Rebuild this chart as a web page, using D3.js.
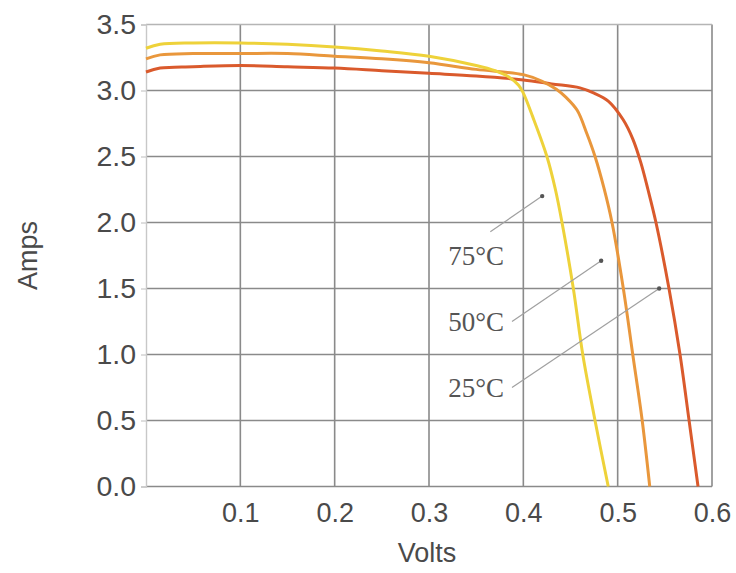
<!DOCTYPE html>
<html>
<head>
<meta charset="utf-8">
<script src="https://cdn.jsdelivr.net/npm/d3@7"></script>
<style>
  html, body { margin: 0; padding: 0; background: #ffffff; }
  svg { display: block; }
</style>
</head>
<body>
<svg id="chart" width="736" height="573"></svg>
<script>
// ---------- DATA ----------
const xTicks = [0.1, 0.2, 0.3, 0.4, 0.5, 0.6];
const yTicks = [0.0, 0.5, 1.0, 1.5, 2.0, 2.5, 3.0, 3.5];
const xLabel = "Volts";
const yLabel = "Amps";

// I-V curves: [volts, amps]
const curve75 = [
  [0.000, 3.32], [0.015, 3.35], [0.05, 3.36], [0.10, 3.36], [0.15, 3.35],
  [0.20, 3.33], [0.25, 3.30], [0.30, 3.26], [0.35, 3.19], [0.37, 3.15],
  [0.385, 3.10], [0.395, 3.04], [0.400, 2.98], [0.410, 2.80], [0.425, 2.50],
  [0.434, 2.25], [0.441, 2.00], [0.453, 1.50], [0.463, 1.00], [0.476, 0.50],
  [0.490, 0.00]
];
const curve50 = [
  [0.000, 3.24], [0.015, 3.27], [0.05, 3.28], [0.10, 3.28], [0.15, 3.28],
  [0.20, 3.26], [0.25, 3.24], [0.30, 3.21], [0.35, 3.16], [0.40, 3.12],
  [0.42, 3.07], [0.435, 3.01], [0.445, 2.95], [0.4571, 2.85], [0.4675, 2.67],
  [0.4760, 2.50], [0.4855, 2.26], [0.494, 2.00], [0.506, 1.50], [0.516, 1.00],
  [0.526, 0.50], [0.534, 0.00]
];
const curve25 = [
  [0.000, 3.14], [0.015, 3.17], [0.05, 3.18], [0.10, 3.19], [0.15, 3.18],
  [0.20, 3.17], [0.25, 3.15], [0.30, 3.13], [0.35, 3.11], [0.40, 3.08],
  [0.43, 3.05], [0.46, 3.02], [0.475, 2.98], [0.490, 2.92], [0.5057, 2.78],
  [0.5162, 2.63], [0.5247, 2.45], [0.5321, 2.25], [0.5406, 2.00], [0.5544, 1.50],
  [0.5661, 1.00], [0.5757, 0.50], [0.5852, 0.00]
];
const seriesNames = ["25°C", "50°C", "75°C"];
const seriesColors = ["#da5a2c", "#e9973c", "#eed23a"];

// annotation anchors in data units: label (V, I), leader start (V, I), leader dot (V, I)
const annotLabels = ["75°C", "50°C", "25°C"];
const annotText = [[0.350, 1.68], [0.350, 1.18], [0.350, 0.68]];
const annotFrom = [[0.365, 1.93], [0.388, 1.25], [0.388, 0.75]];
const annotTo   = [[0.420, 2.20], [0.4825, 1.71], [0.544, 1.50]];

// ---------- LAYOUT ----------
const W = 736, H = 573;
const margin = { left: 146, right: 24, top: 24.5, bottom: 86.5 };
const svg = d3.select("#chart");

const x = d3.scaleLinear().domain([0, 0.6]).range([margin.left, W - margin.right]);
const y = d3.scaleLinear().domain([0, 3.5]).range([H - margin.bottom, margin.top]);

const gridColor = "#8a8a8a";
const textColor = "#4a4a4a";
const font = "'Liberation Sans', Arial, sans-serif";

// grid
const grid = svg.append("g");
grid.selectAll("line.v").data(xTicks).join("line")
  .attr("x1", d => x(d)).attr("x2", d => x(d))
  .attr("y1", y(0)).attr("y2", y(3.5))
  .attr("stroke", gridColor).attr("stroke-width", 1.6);
grid.selectAll("line.h").data(yTicks.filter(d => d > 0 && d < 3.5)).join("line")
  .attr("x1", x(0)).attr("x2", x(0.6))
  .attr("y1", d => y(d)).attr("y2", d => y(d))
  .attr("stroke", gridColor).attr("stroke-width", 1.6);
// frame: top, bottom
grid.append("line").attr("x1", x(0)).attr("x2", x(0.6)).attr("y1", y(3.5)).attr("y2", y(3.5))
  .attr("stroke", "#b5b5b5").attr("stroke-width", 1.4);
grid.append("line").attr("x1", x(0)).attr("x2", x(0.6)).attr("y1", y(0)).attr("y2", y(0))
  .attr("stroke", gridColor).attr("stroke-width", 1.6);

// y axis
const yAxis = svg.append("g")
  .attr("transform", `translate(${x(0)},0)`)
  .call(d3.axisLeft(y).tickValues(yTicks).tickFormat(d3.format(".1f")).tickSize(5).tickPadding(5));
yAxis.select(".domain").attr("stroke", "#c8c8c8").attr("stroke-width", 1.4);
yAxis.selectAll(".tick line").attr("stroke", "#c8c8c8").attr("stroke-width", 1.2);
yAxis.selectAll("text").attr("fill", textColor).style("font-family", font).style("font-size", "28.5px");

// x axis
const xAxis = svg.append("g")
  .attr("transform", `translate(0,${y(0)})`)
  .call(d3.axisBottom(x).tickValues(xTicks).tickFormat(d3.format(".1f")).tickSize(0).tickPadding(16));
xAxis.select(".domain").remove();
xAxis.selectAll("text").attr("fill", textColor).style("font-family", font).style("font-size", "27px");

// axis titles
svg.append("text")
  .attr("x", (x(0) + x(0.6)) / 2 - 2).attr("y", 562)
  .attr("text-anchor", "middle").attr("fill", textColor)
  .style("font-family", font).style("font-size", "27px")
  .text(xLabel);
svg.append("text")
  .attr("transform", `translate(37,${(y(0) + y(3.5)) / 2}) rotate(-90)`)
  .attr("text-anchor", "middle").attr("fill", textColor)
  .style("font-family", font).style("font-size", "27px")
  .text(yLabel);

// curves
const line = d3.line().x(d => x(d[0])).y(d => y(d[1])).curve(d3.curveCatmullRom.alpha(0.5));
const curves = [curve25, curve50, curve75];
svg.append("g").selectAll("path").data(curves).join("path")
  .attr("d", line)
  .attr("fill", "none")
  .attr("stroke", (d, i) => seriesColors[i])
  .attr("stroke-width", 3)
  .attr("stroke-linejoin", "round");

// annotations
const ann = svg.append("g");
ann.selectAll("line").data(annotLabels).join("line")
  .attr("x1", (d, i) => x(annotFrom[i][0])).attr("y1", (d, i) => y(annotFrom[i][1]))
  .attr("x2", (d, i) => x(annotTo[i][0])).attr("y2", (d, i) => y(annotTo[i][1]))
  .attr("stroke", "#a0a0a0").attr("stroke-width", 1.2);
ann.selectAll("circle").data(annotLabels).join("circle")
  .attr("cx", (d, i) => x(annotTo[i][0])).attr("cy", (d, i) => y(annotTo[i][1]))
  .attr("r", 2.2).attr("fill", "#555");
ann.selectAll("text").data(annotLabels).join("text")
  .attr("x", (d, i) => x(annotText[i][0])).attr("y", (d, i) => y(annotText[i][1]))
  .attr("text-anchor", "middle").attr("fill", "#555")
  .style("font-family", "'Liberation Serif', 'Times New Roman', serif").style("font-size", "27px")
  .text(d => d);
</script>
</body>
</html>
